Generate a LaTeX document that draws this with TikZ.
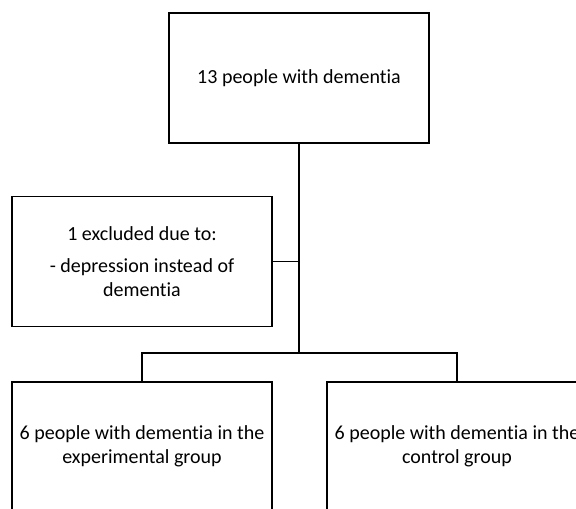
\documentclass[tikz,border=0pt]{standalone}
\usepackage{fontspec}
\setmainfont{Carlito}[Ligatures=NoCommon]
\usetikzlibrary{positioning,calc}

\begin{document}
\begin{tikzpicture}[x=1pt,y=-1pt,
    block/.style={draw, line width=1.5pt, minimum width=260pt, minimum height=130pt,
        align=center, inner sep=0pt, font=\fontsize{20}{24}\selectfont},
    link/.style={line width=1.5pt}]
    \useasboundingbox (0,0) rectangle (576,509);
    \clip (0,0) rectangle (576,509);
    % Boxes
    \node[block] (total) at (299,78) {13 people with dementia};
    \node[block] (excl) at (142,261.5) {1 excluded due to:\\[8pt] - depression instead of\\ dementia};
    \node[block, anchor=north] (exper) at (142,381) {6 people with dementia in the\\ experimental group};
    \node[block, anchor=north] (ctrl) at (457,381) {6 people with dementia in the\\ control group};
    % Connectors
    \coordinate (bar) at (0,353);
    \draw[link] (total.south) -- (total.south |- bar);
    \draw[link] (excl.east) -- (excl.east -| total.south);
    \draw[link] (exper.north) -- (exper.north |- bar) -- (ctrl.north |- bar) -- (ctrl.north);
\end{tikzpicture}
\end{document}
